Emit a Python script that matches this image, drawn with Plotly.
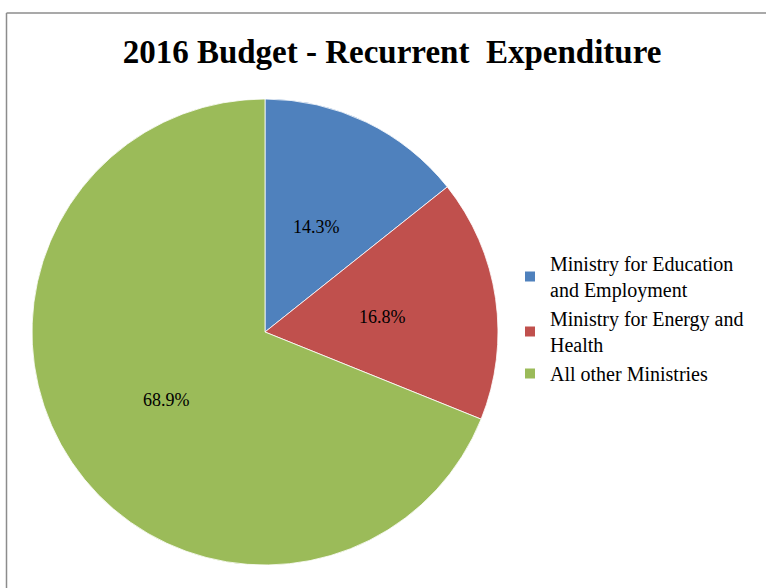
import math
import plotly.graph_objects as go

# Recurrent expenditure shares, 2016 budget
categories = [
    "Ministry for Education<br>and Employment",
    "Ministry for Energy and<br>Health",
    "All other Ministries",
]
shares = [14.3, 16.8, 68.9]
colors = ["#4F81BD", "#C0504D", "#9BBB59"]

W, H = 766, 588
# pie placement in pixels
CX, CY, R = 265, 332, 233

fig = go.Figure(
    go.Pie(
        labels=categories,
        values=shares,
        sort=False,
        direction="clockwise",
        rotation=0,
        marker=dict(colors=colors, line=dict(color="white", width=0.8)),
        textinfo="none",
        domain=dict(x=[(CX - R) / W, (CX + R) / W], y=[1 - (CY + R) / H, 1 - (CY - R) / H]),
        hoverinfo="label+percent",
    )
)

# Percentage labels placed at about half radius along each slice's mid-angle
total = sum(shares)
cum = 0.0
for v in shares:
    mid = (cum + v / 2) / total * 2 * math.pi
    cum += v
    px = CX + 0.51 * R * math.sin(mid)
    py = CY - 0.51 * R * math.cos(mid) + 2
    fig.add_annotation(
        x=px / W, y=1 - py / H, xref="paper", yref="paper",
        xanchor="center", yanchor="middle",
        text=f"{v / total * 100:.1f}%", showarrow=False,
        font=dict(family="Liberation Serif", size=18, color="black"),
    )

# Chart-area frame (left and top edges)
frame = dict(color="#8c8c8c", width=1.5)
fig.add_shape(type="line", xref="paper", yref="paper",
              x0=6.5 / W, x1=1, y0=1 - 13 / H, y1=1 - 13 / H, line=frame)
fig.add_shape(type="line", xref="paper", yref="paper",
              x0=6.5 / W, x1=6.5 / W, y0=0, y1=1 - 13 / H, line=frame)

fig.update_layout(
    width=W,
    height=H,
    margin=dict(l=0, r=0, t=0, b=0),
    paper_bgcolor="white",
    title=dict(
        text="<b>2016 Budget - Recurrent  Expenditure</b>",
        x=392 / W,
        xanchor="center",
        y=1 - 51 / H,
        yanchor="middle",
        font=dict(family="Liberation Serif", size=33, color="black"),
    ),
    legend=dict(
        x=510 / W,
        y=1 - 244 / H,
        xanchor="left",
        yanchor="top",
        font=dict(family="Liberation Serif", size=20, color="black"),
        itemsizing="constant",
        bgcolor="rgba(0,0,0,0)",
    ),
    showlegend=True,
)

fig.write_html("out.html")
